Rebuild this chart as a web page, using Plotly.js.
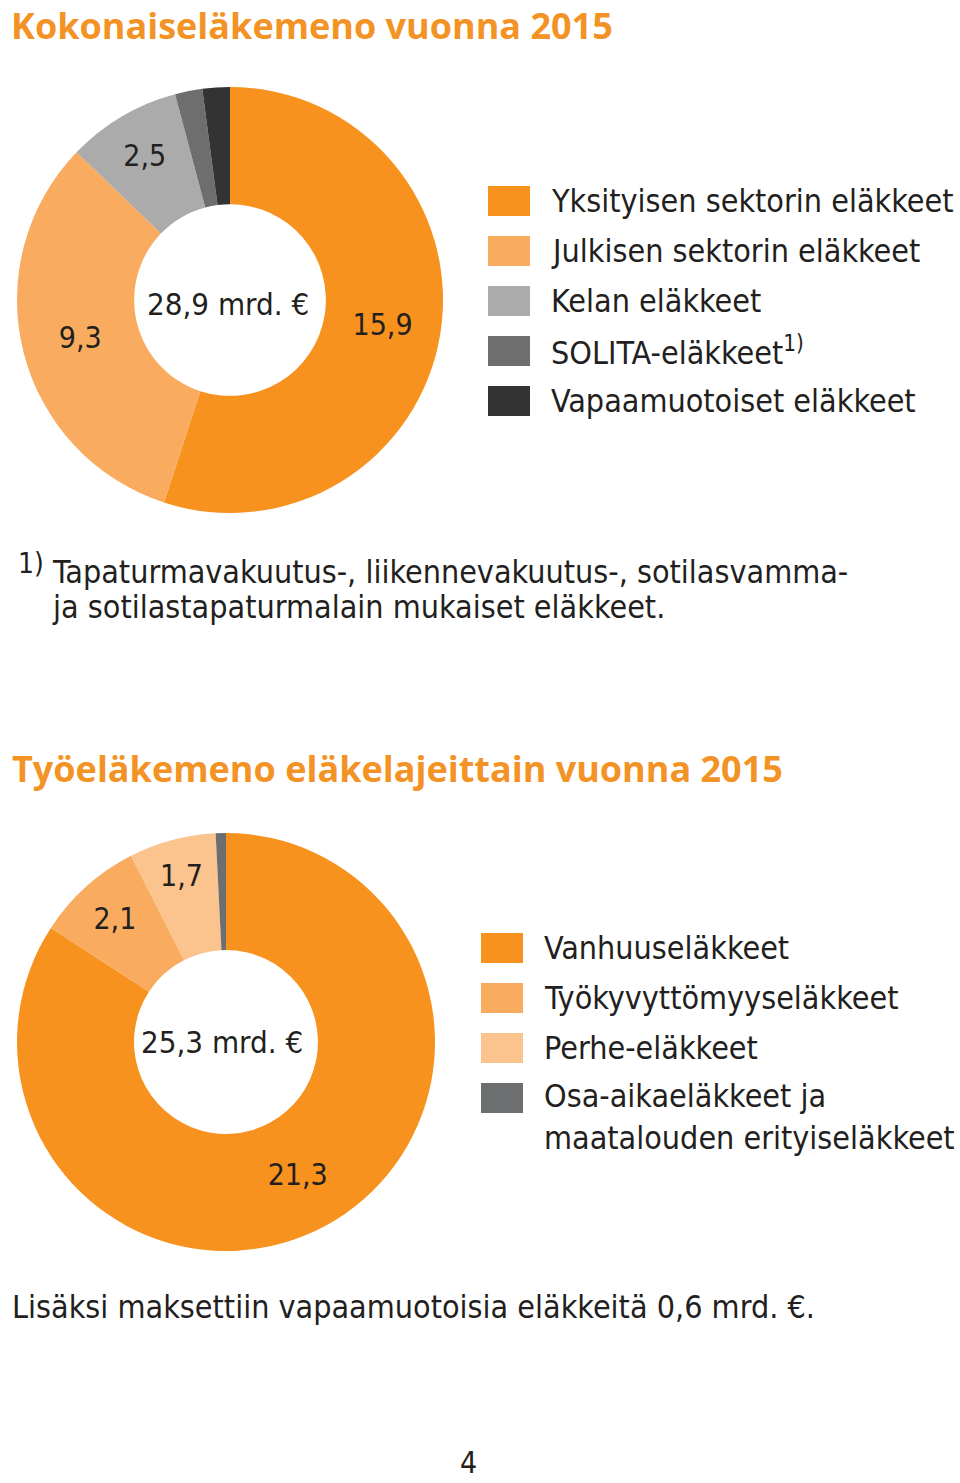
<!DOCTYPE html>
<html>
<head>
<meta charset="utf-8">
<script src="https://cdn.plot.ly/plotly-3.0.1.min.js"></script>
<style>
  html, body { margin: 0; padding: 0; background: #ffffff; }
  #chart { width: 960px; height: 1483px; }
</style>
</head>
<body>
<div id="chart"></div>
<script>
// ---- Data ----
const title1 = "Kokonaiseläkemeno vuonna 2015";
const labels1 = ["Yksityisen sektorin eläkkeet", "Julkisen sektorin eläkkeet", "Kelan eläkkeet", "SOLITA-eläkkeet<sup>1)</sup>", "Vapaamuotoiset eläkkeet"];
const values1 = [15.9, 9.3, 2.5, 0.6, 0.6];
const showValue1 = [true, true, true, false, false];
const colors1 = ["#F7921E", "#F9AC5F", "#ABABAB", "#6E6E6E", "#333333"];

const title2 = "Työeläkemeno eläkelajeittain vuonna 2015";
const labels2 = ["Vanhuuseläkkeet", "Työkyvyttömyyseläkkeet", "Perhe-eläkkeet", "Osa-aikaeläkkeet ja<br>maatalouden erityiseläkkeet"];
const values2 = [21.3, 2.1, 1.7, 0.2];
const showValue2 = [true, true, true, false];
const colors2 = ["#F7921E", "#F9AC5F", "#FBC48E", "#6D6E70"];

const footnote = ["1)", "Tapaturmavakuutus-, liikennevakuutus-, sotilasvamma-", "ja sotilastapaturmalain mukaiset eläkkeet."];
const bottomNote = "Lisäksi maksettiin vapaamuotoisia eläkkeitä 0,6 mrd. €.";
const pageNumber = "4";
const unit = "mrd. €";

// ---- Helpers ----
const W = 960, H = 1483;
const px = x => x / W;
const py = y => 1 - y / H;
const TXT = "#231F20";
const ORANGE = "#F39325";
const BODY = "'Liberation Sans Narrow', 'DejaVu Sans Condensed', 'Open Sans', sans-serif";
const fmt = v => v.toFixed(1).replace(".", ",");
const sum = a => a.reduce((s, v) => s + v, 0);

const pieCommon = {
  type: "pie", sort: false, direction: "clockwise", rotation: 0,
  textposition: "inside", insidetextorientation: "horizontal",
  textfont: {family: BODY, size: 30, color: TXT},
  showlegend: false, hoverinfo: "label+value"
};

const trace1 = Object.assign({}, pieCommon, {
  labels: labels1, values: values1, hole: 0.45,
  marker: {colors: colors1, line: {width: 0}},
  texttemplate: showValue1.map(s => s ? "%{value:.1f}" : ""),
  domain: {x: [px(17), px(443)], y: [py(513), py(87)]}
});
const trace2 = Object.assign({}, pieCommon, {
  labels: labels2, values: values2, hole: 0.44,
  marker: {colors: colors2, line: {width: 0}},
  texttemplate: showValue2.map(s => s ? "%{value:.1f}" : ""),
  domain: {x: [px(17), px(435)], y: [py(1251), py(833)]}
});

const shapes = [];
const annotations = [];

function addText(text, x, y, size, opts) {
  annotations.push(Object.assign({
    text: text, x: px(x), y: py(y), xref: "paper", yref: "paper",
    xanchor: "left", yanchor: "middle", showarrow: false, align: "left",
    font: {family: BODY, size: size, color: TXT}
  }, opts || {}));
}

// Titles
const titleFont = {family: "'Open Sans', sans-serif", size: 36, color: ORANGE, weight: 700};
addText(title1, 10, 0, 36, {font: titleFont, yanchor: "top", borderpad: 0});
addText(title2, 10, 768, 36, {font: titleFont});

// Center totals
addText(fmt(sum(values1)) + " " + unit, 228, 304, 31, {xanchor: "center"});
addText(fmt(sum(values2)) + " " + unit, 222, 1042, 31, {xanchor: "center"});

// Legend 1
labels1.forEach((lab, i) => {
  const cy = 201 + i * 50;
  shapes.push({type: "rect", xref: "paper", yref: "paper",
    x0: px(488), x1: px(530), y0: py(cy + 15), y1: py(cy - 15),
    fillcolor: colors1[i], line: {width: 0}});
  addText(lab, 549, cy, 32);
});

// Legend 2
labels2.forEach((lab, i) => {
  const cy = 948 + i * 50;
  const lines = lab.split("<br>").length;
  shapes.push({type: "rect", xref: "paper", yref: "paper",
    x0: px(481), x1: px(523), y0: py(cy + 15), y1: py(cy - 15),
    fillcolor: colors2[i], line: {width: 0}});
  addText(lab, 542, cy + (lines - 1) * 19, 32);
});

// Footnote
addText(footnote[0], 16, 563, 28);
addText(footnote[1], 50, 572, 32);
addText(footnote[2], 50, 607, 32);

// Bottom note
addText(bottomNote, 10, 1307, 32);
addText(pageNumber, 468, 1462, 30, {xanchor: "center"});

const layout = {
  width: W, height: H,
  margin: {l: 0, r: 0, t: 0, b: 0},
  paper_bgcolor: "#ffffff",
  separators: ", ",
  showlegend: false,
  shapes: shapes,
  annotations: annotations
};

Plotly.newPlot("chart", [trace1, trace2], layout, {staticPlot: true});
</script>
</body>
</html>
